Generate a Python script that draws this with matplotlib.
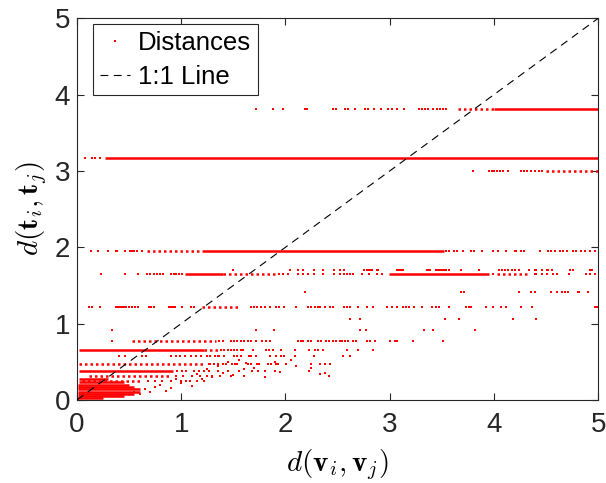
import matplotlib
matplotlib.use("Agg")
import matplotlib.pyplot as plt

plt.rcParams['font.family'] = ['Liberation Sans', 'DejaVu Sans']
plt.rcParams['mathtext.fontset'] = 'cm'

# ---------------- data ----------------
# dense bands: (y, x_start, x_end) -- rows so packed that they read as a solid line
dense_y  = [3.81, 3.165, 1.95, 1.65, 1.65, 0.655, 0.38,
            0.02, 0.05, 0.08, 0.11, 0.14, 0.17, 0.20, 0.23, 0.27]
dense_x0 = [4.00, 0.27, 1.20, 1.04, 2.99, 0.02, 0.02,
            0.00, 0.01, 0.01, 0.01, 0.01, 0.01, 0.01, 0.02, 0.02]
dense_x1 = [5.00, 5.00, 3.52, 1.40, 3.95, 1.22, 0.92,
            0.25, 0.45, 0.55, 0.60, 0.60, 0.55, 0.50, 0.45, 0.30]

# semi-dense bands: (y, x_start, x_end) -- rows of closely spaced dots
semi_y  = [3.81, 3.0, 1.95, 1.65, 1.65, 1.22, 0.77, 0.655, 0.47, 0.31, 0.25]
semi_x0 = [3.66, 4.50, 0.67, 1.40, 4.03, 1.20, 0.53, 1.22, 0.02, 0.12, 0.05]
semi_x1 = [4.00, 5.00, 1.20, 1.91, 4.33, 1.56, 1.33, 1.35, 1.22, 0.90, 0.60]

# isolated distances along the levels
sparse = {
    3.81: [1.72, 1.885, 1.98, 2.19, 2.21, 2.46, 2.49, 2.57, 2.60, 2.67, 2.76, 2.79,
           2.85, 2.92, 2.98, 3.02, 3.07, 3.14, 3.28, 3.31, 3.34, 3.37, 3.42, 3.45,
           3.48, 3.51, 3.54],
    3.165: [0.08, 0.145, 0.17, 0.22],
    3.0: [3.80, 3.95, 3.98, 4.00, 4.03, 4.06, 4.09, 4.14, 4.26, 4.29, 4.32, 4.36,
          4.39, 4.43, 4.46],
    1.95: [0.135, 0.20, 0.30, 0.37, 0.385, 0.46, 0.51, 0.53, 0.55, 0.58, 0.62,
           3.54, 3.57, 3.62, 3.65, 3.70, 3.78, 3.81, 3.89, 3.99, 4.04, 4.12, 4.20,
           4.21, 4.26, 4.29, 4.44, 4.52, 4.55, 4.59, 4.63, 4.66, 4.70, 4.76, 4.79,
           4.84, 4.87, 4.92, 4.97],
    1.65: [0.23, 0.46, 0.585, 0.67, 0.70, 0.74, 0.77, 0.80, 0.83, 0.90, 0.93, 0.95,
           0.98, 1.01, 1.94, 1.98, 2.02, 2.12, 2.17, 2.22, 2.27, 2.36, 2.47, 2.52,
           2.56, 2.59, 2.62, 2.65, 2.73, 2.80, 2.88, 2.93, 3.99, 4.39, 4.40, 4.46,
           4.51, 4.57, 4.61, 4.72, 4.88, 4.92, 4.97],
    1.70: [1.50, 2.04, 2.12, 2.17, 2.27, 2.36, 2.47, 2.52, 2.56, 2.75, 2.78, 2.80,
           2.81, 2.83, 2.88, 2.89, 3.07, 3.09, 3.10, 3.12, 3.13, 3.36, 3.37, 3.39,
           3.44, 3.46, 3.47, 3.49, 3.50, 3.52, 3.54, 3.57, 3.68, 3.86, 4.05, 4.08,
           4.11, 4.14, 4.17, 4.20, 4.24, 4.34, 4.39, 4.40, 4.46, 4.51, 4.52, 4.56,
           4.73, 4.76, 4.92, 4.94],
    1.42: [2.19, 3.68, 3.71, 4.24, 4.36, 4.39, 4.55, 4.61, 4.65, 4.68, 4.71, 4.81,
           4.82, 4.90],
    1.22: [0.115, 0.14, 0.22, 0.37, 0.39, 0.41, 0.43, 0.45, 0.47, 0.495, 0.53, 0.56,
           0.59, 0.69, 0.71, 0.735, 0.88, 0.90, 0.92, 0.945, 1.01, 1.09, 1.12, 1.67,
           1.70, 1.73, 1.77, 1.80, 1.85, 1.91, 1.94, 1.99, 2.10, 2.22, 2.25, 2.28,
           2.31, 2.33, 2.38, 2.43, 2.46, 2.56, 2.59, 2.62, 2.70, 2.78, 2.84, 2.97,
           3.02, 3.07, 3.13, 3.16, 3.19, 3.23, 3.31, 3.41, 3.44, 3.47, 3.57, 3.73,
           3.76, 3.78, 3.92, 3.99, 4.07, 4.12, 4.26, 4.37, 4.97, 4.99],
    1.06: [2.62, 2.72, 3.53, 3.67, 4.18, 4.40],
    0.91: [0.335, 1.72, 1.89, 2.72, 2.77, 3.33, 3.42, 3.82],
    0.77: [0.335, 1.36, 1.40, 1.48, 1.51, 1.54, 1.57, 1.60, 1.64, 1.67, 1.72, 1.78,
           1.81, 1.85, 2.12, 2.15, 2.17, 2.22, 2.25, 2.31, 2.34, 2.39, 2.42, 2.46,
           2.49, 2.52, 2.54, 2.57, 2.60, 2.65, 2.68, 2.78, 2.81, 2.86, 3.00, 3.05,
           3.07, 3.22, 3.51],
    0.655: [1.38, 1.41, 1.45, 1.48, 1.51, 1.54, 1.57, 1.59, 1.69, 1.81, 1.84, 1.88,
            1.96, 2.09, 2.23, 2.28, 2.31, 2.36, 2.59, 2.70, 2.84],
    0.57: [0.40, 0.46, 0.62, 0.66, 0.90, 0.95, 0.99, 1.04, 1.09, 1.14, 1.19, 1.25,
           1.28, 1.32, 1.35, 1.36, 1.41, 1.51, 1.54, 1.57, 1.65, 1.67, 1.72, 1.85,
           1.91, 1.96, 1.99, 2.09, 2.27, 2.55, 2.62],
    0.47: [1.27, 1.28, 1.31, 1.35, 1.40, 1.43, 1.49, 1.52, 1.54, 1.64, 1.67, 1.73,
           1.75, 1.83, 1.86, 1.91, 1.93, 2.01, 2.25, 2.33, 2.38, 2.43],
    0.38: [0.96, 1.01, 1.05, 1.12, 1.17, 1.22, 1.27, 1.35, 1.45, 1.55, 1.68, 1.74,
           1.80, 1.90, 2.23],
    0.31: [0.95, 1.02, 1.10, 1.18, 1.25, 1.30, 1.37, 1.48, 1.60],
    0.25: [0.68, 0.75, 0.82, 0.90, 1.00, 1.08, 1.15, 1.22],
}

# scattered distances below the bands
scat_x = [0.80, 0.90, 1.00, 1.10, 1.20, 1.30, 1.40, 1.50, 1.60, 1.70, 1.80, 1.95,
          2.10, 0.70, 0.65, 0.75, 0.85, 0.95, 1.05, 1.15, 1.25, 1.35, 1.45, 1.55,
          1.62, 1.90, 2.05, 0.60, 0.55, 2.33, 2.38, 2.42, 2.25]
scat_y = [0.20, 0.15, 0.22, 0.18, 0.28, 0.30, 0.35, 0.33, 0.40, 0.42, 0.30, 0.36,
          0.45, 0.10, 0.14, 0.17, 0.12, 0.27, 0.25, 0.34, 0.40, 0.44, 0.50, 0.52,
          0.48, 0.50, 0.52, 0.08, 0.10, 0.34, 0.35, 0.32, 0.42]

line_x = [0, 5]
line_y = [0, 5]

x_ticks = [0, 1, 2, 3, 4, 5]
y_ticks = [0, 1, 2, 3, 4, 5]

# ---------------- figure ----------------
fig = plt.figure(figsize=(6.06, 4.83), dpi=100)
ax = fig.add_axes([0.127, 0.172, 0.860, 0.790])

red = '#ff0000'
LW = 1.8
MS = 1.9
for y, a, b in zip(dense_y, dense_x0, dense_x1):
    ax.plot([a, b], [y, y], color=red, lw=LW, solid_capstyle='butt', zorder=2)
for y, a, b in zip(semi_y, semi_x0, semi_x1):
    ax.plot([a, b], [y, y], color=red, lw=LW, linestyle=(0, (1.0, 1.2)),
            dash_capstyle='butt', zorder=2)
for y, xs in sparse.items():
    ax.plot(xs, [y] * len(xs), linestyle='none', marker='s', ms=MS, mew=0,
            color=red, zorder=2)
ax.plot(scat_x, scat_y, linestyle='none', marker='s', ms=MS, mew=0, color=red,
        zorder=2)

# legend proxy for the distances
h_dist, = ax.plot([], [], linestyle='none', marker='s', ms=1.8, mew=0, color=red,
                  label='Distances')
h_line, = ax.plot(line_x, line_y, color='black', lw=0.8, linestyle=(0, (7, 5)),
                  label='1:1 Line', zorder=3)

ax.set_xlim(0, 5)
ax.set_ylim(0, 5)
ax.set_xticks(x_ticks)
ax.set_yticks(y_ticks)
ax.tick_params(direction='in', length=5, width=0.8, colors='#262626',
               labelsize=20, top=True, right=True)
ax.tick_params(axis='x', pad=9)
ax.tick_params(axis='y', pad=5)
for s in ax.spines.values():
    s.set_color('#262626')
    s.set_linewidth(0.8)

ax.set_xlabel(r'$d(\mathbf{v}_i,\mathbf{v}_j)$', fontsize=21, labelpad=6)
ax.set_ylabel(r'$d(\mathbf{t}_i,\mathbf{t}_j)$', fontsize=21, labelpad=4)

leg = ax.legend(handles=[h_dist, h_line], loc='upper left', fontsize=18.5,
                bbox_to_anchor=(0.031, 0.985), frameon=True, fancybox=False,
                framealpha=1, edgecolor='#262626', borderpad=0.25,
                handlelength=1.2, handletextpad=0.3, labelspacing=0.4,
                borderaxespad=0.0, markerscale=1.0)
leg.get_frame().set_linewidth(0.8)

fig.savefig('out.png', dpi=100)
